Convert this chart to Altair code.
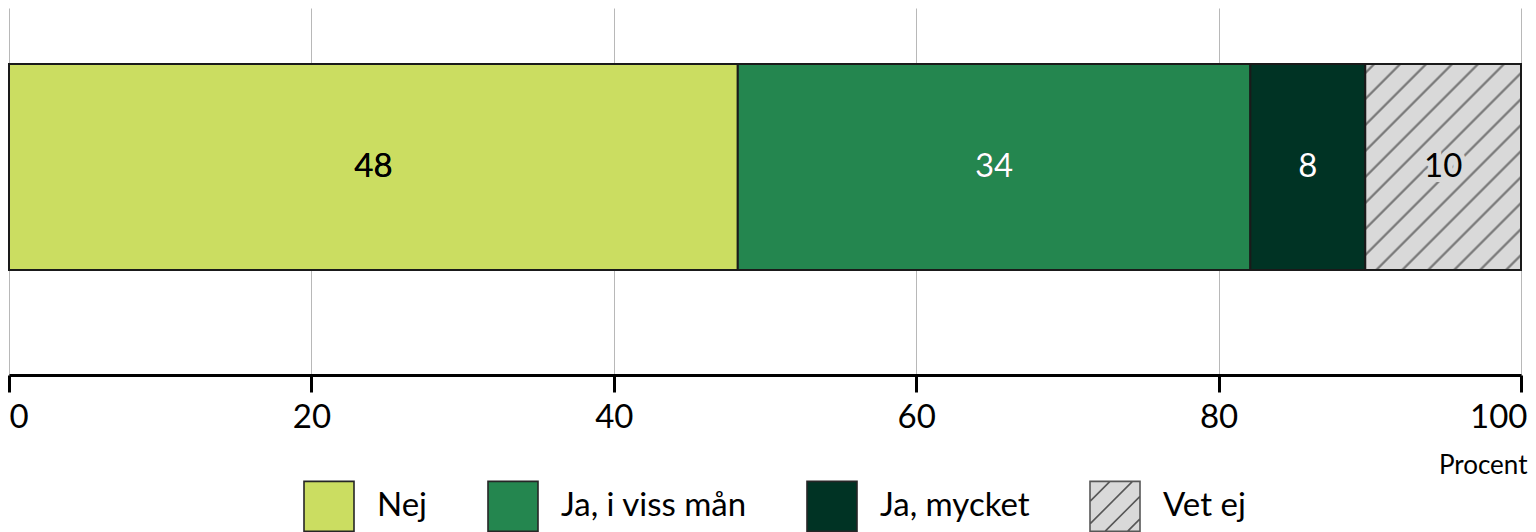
import altair as alt
import pandas as pd

# ---- data ----
categories = ["Nej", "Ja, i viss mån", "Ja, mycket", "Vet ej"]
values = [48.2, 33.9, 7.6, 10.3]
colors = ["#cbdd61", "#24864f", "#003324", "#d9d9d9"]
tick_values = [0, 20, 40, 60, 80, 100]
axis_title = "Procent"
hatched = "Vet ej"
white_text = ["Ja, i viss mån", "Ja, mycket"]

df = pd.DataFrame({"cat": categories, "value": values, "order": list(range(len(categories)))})

# ---- styling ----
FONT = "Lato"
PLOT_W, PLOT_H = 1512, 367
HATCH_BG = "#d9d9d9"
HATCH_LINE = "#7a7a7a"

# diagonal hatch as a linear gradient with thin stripes (bbox units)
SEG_W, SEG_H = 156.0, 206.0
span = SEG_W + SEG_H
s = span / (SEG_W ** 2 + SEG_H ** 2)
stops = [{"offset": 0, "color": HATCH_BG}]
pos = 9.0
half = 1.2
while pos < span - 3:
    a = max(0.0, (pos - 2.2 * half) / span)
    b = (pos - 0.5 * half) / span
    c = (pos + 0.5 * half) / span
    d = min(1.0, (pos + 2.2 * half) / span)
    stops += [
        {"offset": a, "color": HATCH_BG},
        {"offset": b, "color": HATCH_LINE},
        {"offset": c, "color": HATCH_LINE},
        {"offset": d, "color": HATCH_BG},
    ]
    pos += 26.0
stops.append({"offset": 1, "color": HATCH_BG})
HATCH = {"gradient": "linear", "x1": 0, "y1": 0, "x2": s * SEG_W, "y2": s * SEG_H, "stops": stops}

# legend symbols: plain squares, and a square with diagonal hatch lines for "Vet ej"
LEGEND_HATCH_PATH = "M-1,-1H1V1H-1Z M-1,-0.2L-0.2,-1 M-1,0.7L0.7,-1 M-0.4,1L1,-0.4 M0.5,1L1,0.5"
shape_range = [LEGEND_HATCH_PATH if c == hatched else "square" for c in categories]
stroke_range = ["#575757" if c == hatched else "#262626" for c in categories]

legend = alt.Legend(
    title=None,
    orient="none",
    legendX=294,
    legendY=472,
    direction="horizontal",
    symbolSize=2500,
    symbolStrokeWidth=1.6,
    symbolOpacity=1,
    labelFont=FONT,
    labelFontSize=33,
    labelColor="black",
    labelOffset=22,
    labelLimit=600,
    columnPadding=56,
    padding=0,
)

fill_scale = alt.Scale(domain=categories, range=colors)
x_scale = alt.Scale(domain=[0, 100], nice=False, zero=True)
x_axis = alt.Axis(
    values=tick_values,
    grid=True,
    gridColor="#b8b8b8",
    gridWidth=1,
    domainColor="black",
    domainWidth=3,
    tickColor="black",
    tickWidth=3,
    tickSize=17,
    labelFont=FONT,
    labelFontSize=33,
    labelColor="black",
    labelPadding=9,
    labelFlush=True,
    labelFlushOffset=0,
    labelOffset=alt.ConditionalAxisNumber(
        condition={"test": "datum.value == 100", "value": 6}, value=0
    ),
    title=axis_title,
    titleFont=FONT,
    titleFontSize=26,
    titleFontWeight="normal",
    titleColor="black",
    titleAlign="right",
    titleAnchor="end",
    titleBaseline="alphabetic",
    titleX=1518,
    titleY=98,
)
y_enc = alt.Y(
    "row:N",
    axis=None,
    scale=alt.Scale(paddingInner=0, paddingOuter=0.3908, align=0.348),
)

base = (
    alt.Chart(df)
    .transform_calculate(row="'r'")
    .transform_stack(
        as_=["v0", "v1"],
        stack="value",
        groupby=["row"],
        sort=[alt.SortField("order", order="ascending")],
    )
    .transform_calculate(mid="(datum.v0 + datum.v1) / 2")
)

# points hidden under the bars; they carry fill/shape/stroke scales into one legend
legend_carrier = base.mark_point(filled=True, strokeWidth=1.6).encode(
    x=alt.X("mid:Q", scale=x_scale, axis=x_axis),
    y=y_enc,
    fill=alt.Fill("cat:N", scale=fill_scale, legend=legend),
    shape=alt.Shape("cat:N", scale=alt.Scale(domain=categories, range=shape_range), legend=legend),
    stroke=alt.Stroke("cat:N", scale=alt.Scale(domain=categories, range=stroke_range), legend=legend),
)

bars = base.mark_bar(stroke="#1a1a1a", strokeWidth=2).encode(
    x=alt.X("v0:Q", scale=x_scale, axis=x_axis),
    x2="v1:Q",
    y=y_enc,
    fill=alt.condition(
        alt.datum.cat == hatched,
        alt.value(HATCH),
        alt.Fill("cat:N", scale=fill_scale, legend=legend),
    ),
)

halo = base.mark_text(font=FONT, fontSize=33, strokeWidth=10, strokeJoin="round").encode(
    x=alt.X("mid:Q", scale=x_scale, axis=x_axis),
    y=y_enc,
    text=alt.Text("value:Q", format=".0f"),
    stroke=alt.condition(alt.datum.cat == hatched, alt.value(HATCH_BG), alt.value("transparent")),
)

labels = base.mark_text(font=FONT, fontSize=33).encode(
    x=alt.X("mid:Q", scale=x_scale, axis=x_axis),
    y=y_enc,
    text=alt.Text("value:Q", format=".0f"),
    color=alt.condition(
        alt.FieldOneOfPredicate(field="cat", oneOf=white_text),
        alt.value("white"),
        alt.value("black"),
    ),
)

chart = (
    alt.layer(legend_carrier, bars, halo, labels)
    .properties(
        width=PLOT_W,
        height=PLOT_H,
        autosize=alt.AutoSizeParams(type="none"),
        padding={"left": 1, "top": 0, "right": 7, "bottom": 157},
    )
    .configure_view(stroke="transparent")
)

chart.save("out.html", embed_options={"renderer": "svg", "actions": False})
